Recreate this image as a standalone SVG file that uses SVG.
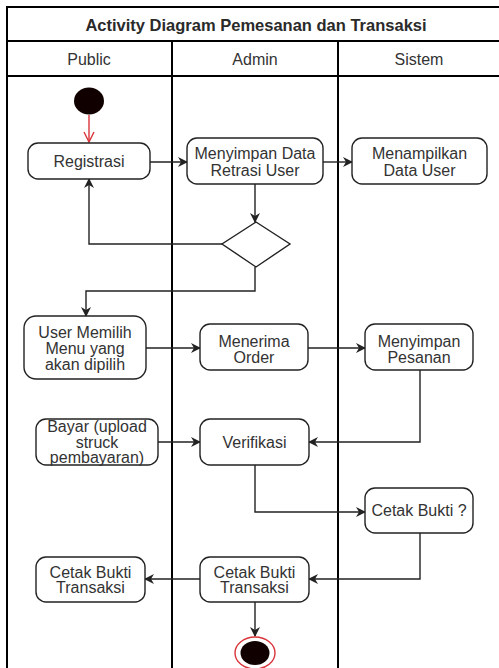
<svg xmlns="http://www.w3.org/2000/svg" width="499" height="668" viewBox="0 0 499 668">
  <defs>
    <style>
      .lane { stroke: #000; stroke-width: 2; fill: none; }
      .act { fill: #fff; stroke: #222; stroke-width: 1.4; }
      .lbl { font-family: "Liberation Sans", Arial, sans-serif; font-size: 16px; fill: #333; text-anchor: middle; }
      .ttl { font-family: "Liberation Sans", Arial, sans-serif; font-size: 16.5px; font-weight: bold; fill: #2a2a2a; text-anchor: middle; }
      .edge { stroke: #222; stroke-width: 1.4; fill: none; marker-end: url(#arrow); }
    </style>
    <marker id="arrow" viewBox="0 0 10 10" refX="9" refY="5" markerWidth="10" markerHeight="10" markerUnits="userSpaceOnUse" orient="auto">
      <path d="M0,0 L10,5 L0,10 L3,5 z" fill="#222"/>
    </marker>
    <marker id="openArrow" viewBox="0 0 12 12" refX="11" refY="6" markerWidth="12" markerHeight="12" markerUnits="userSpaceOnUse" orient="auto">
      <path d="M1,1 L11,6 L1,11" fill="none" stroke="#d9343a" stroke-width="1.4"/>
    </marker>
  </defs>

  <rect width="499" height="668" fill="#fff"/>

  <!-- swimlane frame -->
  <g id="swimlanes">
    <path class="lane" d="M7,668 V7 H499 M7,41 H499 M7,76 H499 M172,41 V668 M338,41 V668"/>
    <text class="ttl" x="256" y="31">Activity Diagram Pemesanan dan Transaksi</text>
    <text class="lbl" x="89" y="65">Public</text>
    <text class="lbl" x="255" y="65">Admin</text>
    <text class="lbl" x="419" y="65">Sistem</text>
  </g>

  <!-- connectors -->
  <g id="connectors">
    <path d="M89,115 V142" fill="none" stroke="#d9343a" stroke-width="1.4" marker-end="url(#openArrow)"/>
    <path class="edge" d="M150,162 H187"/>
    <path class="edge" d="M323,162 H352"/>
    <path class="edge" d="M255,184 V222"/>
    <path class="edge" d="M222,244 H89 V179"/>
    <path class="edge" d="M255,267 V291 H86 V316"/>
    <path class="edge" d="M146,348 H200"/>
    <path class="edge" d="M308,348 H365"/>
    <path class="edge" d="M420,370 V442 H309"/>
    <path class="edge" d="M158,442 H200"/>
    <path class="edge" d="M255,465 V512 H365"/>
    <path class="edge" d="M420,533 V579 H309"/>
    <path class="edge" d="M200,579 H145"/>
    <path class="edge" d="M255,602 V636"/>
  </g>

  <g id="start">
    <ellipse cx="89" cy="101" rx="15" ry="13.5" fill="#100"/>
  </g>

  <g id="registrasi">
    <rect class="act" x="28" y="143" width="122" height="36" rx="10"/>
    <text class="lbl" x="89" y="166.5">Registrasi</text>
  </g>

  <g id="simpan-data">
    <rect class="act" x="187" y="138" width="136" height="46" rx="10"/>
    <text class="lbl" x="255" y="158.5">Menyimpan Data</text>
    <text class="lbl" x="255" y="175.5">Retrasi User</text>
  </g>

  <g id="tampil-data">
    <rect class="act" x="352" y="138" width="135" height="46" rx="10"/>
    <text class="lbl" x="419.5" y="158.5">Menampilkan</text>
    <text class="lbl" x="419.5" y="175.5">Data User</text>
  </g>

  <g id="decision">
    <polygon class="act" points="256,222 290,244 256,267 222,244"/>
  </g>

  <g id="pilih-menu">
    <rect class="act" x="24" y="316" width="122" height="63" rx="12"/>
    <text class="lbl" x="85" y="337.5">User Memilih</text>
    <text class="lbl" x="85" y="354">Menu yang</text>
    <text class="lbl" x="85" y="369.5">akan dipilih</text>
  </g>

  <g id="terima-order">
    <rect class="act" x="200" y="324" width="108" height="46" rx="10"/>
    <text class="lbl" x="254" y="346.5">Menerima</text>
    <text class="lbl" x="254" y="362.5">Order</text>
  </g>

  <g id="simpan-pesanan">
    <rect class="act" x="365" y="324" width="108" height="46" rx="10"/>
    <text class="lbl" x="419" y="346.5">Menyimpan</text>
    <text class="lbl" x="419" y="362.5">Pesanan</text>
  </g>

  <g id="bayar">
    <rect class="act" x="36" y="419" width="122" height="46" rx="10"/>
    <text class="lbl" x="97" y="432">Bayar (upload</text>
    <text class="lbl" x="97" y="447.5">struck</text>
    <text class="lbl" x="97" y="463">pembayaran)</text>
  </g>

  <g id="verifikasi">
    <rect class="act" x="200" y="419" width="109" height="46" rx="10"/>
    <text class="lbl" x="254.5" y="447.5">Verifikasi</text>
  </g>

  <g id="cetak-tanya">
    <rect class="act" x="365" y="488" width="108" height="45" rx="10"/>
    <text class="lbl" x="419" y="516">Cetak Bukti ?</text>
  </g>

  <g id="cetak-admin">
    <rect class="act" x="200" y="557" width="109" height="45" rx="10"/>
    <text class="lbl" x="254.5" y="577.5">Cetak Bukti</text>
    <text class="lbl" x="254.5" y="593">Transaksi</text>
  </g>

  <g id="cetak-public">
    <rect class="act" x="36" y="557" width="109" height="45" rx="10"/>
    <text class="lbl" x="90.5" y="577.5">Cetak Bukti</text>
    <text class="lbl" x="90.5" y="593">Transaksi</text>
  </g>

  <g id="end">
    <ellipse cx="255" cy="653" rx="20" ry="16" fill="#fff" stroke="#d9343a" stroke-width="1.4"/>
    <ellipse cx="255" cy="653" rx="14.5" ry="12" fill="#100"/>
  </g>
</svg>
